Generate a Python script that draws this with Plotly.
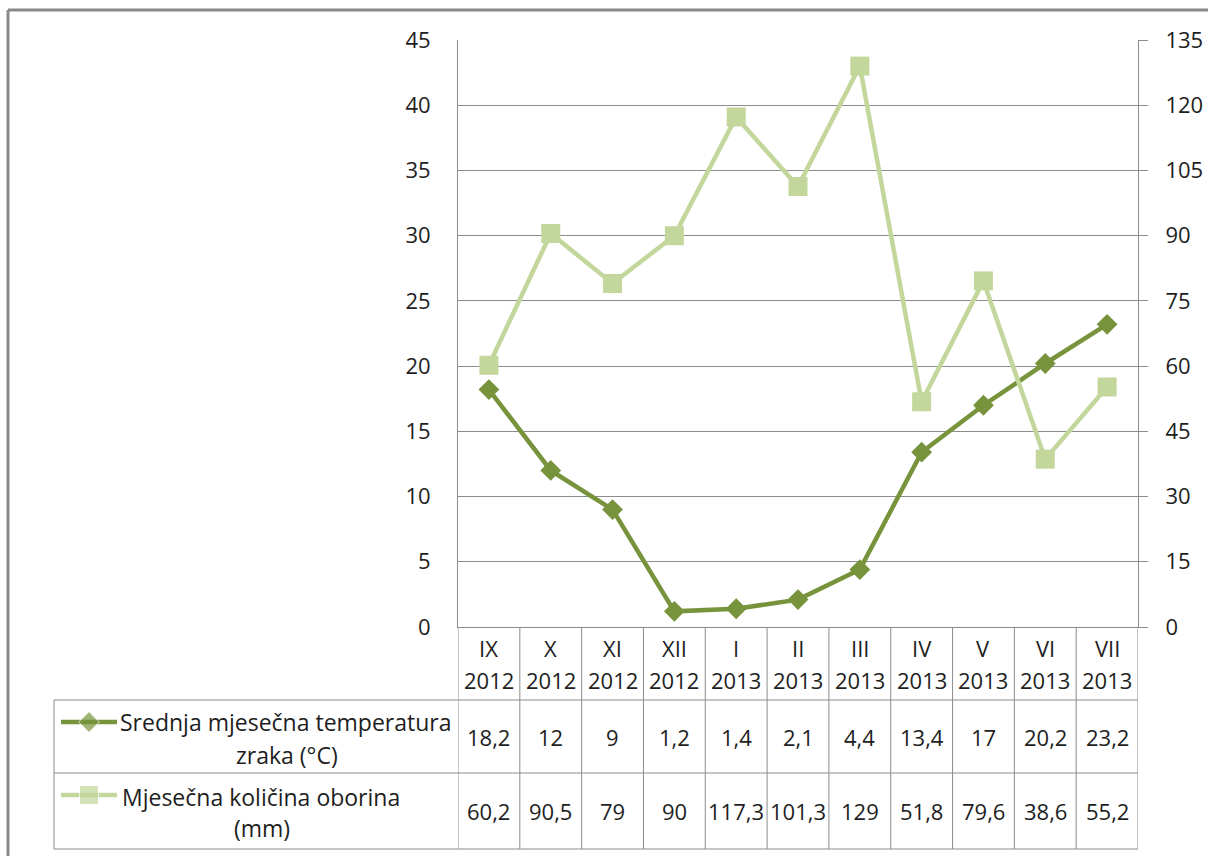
import plotly.graph_objects as go

# ---------------- data ----------------
months = ["IX", "X", "XI", "XII", "I", "II", "III", "IV", "V", "VI", "VII"]
years = ["2012", "2012", "2012", "2012", "2013", "2013", "2013", "2013", "2013", "2013", "2013"]
temperature = [18.2, 12, 9, 1.2, 1.4, 2.1, 4.4, 13.4, 17, 20.2, 23.2]
precipitation = [60.2, 90.5, 79, 90, 117.3, 101.3, 129, 51.8, 79.6, 38.6, 55.2]
temp_name_lines = ["Srednja mjesečna temperatura", "zraka (°C)"]
prec_name_lines = ["Mjesečna količina oborina", "(mm)"]
left_ticks = [0, 5, 10, 15, 20, 25, 30, 35, 40, 45]
right_ticks = [0, 15, 30, 45, 60, 75, 90, 105, 120, 135]

# ---------------- style ----------------
W, H = 1208, 856
FONT = "Open Sans"
FS = 22
FS_LABEL = 23
TXT = "#1e1e1e"
GRID = "#8c8c8c"
TEMP_C = "#77933C"
PREC_C = "#C3D69B"

PL, PR, PT, PB = 458, 1138, 40, 627   # plot area in px
TAB_L = 54
ROW1_T, ROW2_T, TAB_B = 700, 773, 849


def px(x):
    return x / W


def py(y):
    return 1 - y / H


def fmt(v):
    return f"{v:g}".replace(".", ",")


xs = list(range(len(months)))

fig = go.Figure()

fig.add_trace(go.Scatter(
    x=xs, y=temperature, mode="lines+markers", name=" ".join(temp_name_lines),
    line=dict(color=TEMP_C, width=4.5),
    marker=dict(symbol="diamond", size=16, color=TEMP_C),
    xaxis="x", yaxis="y", showlegend=False, cliponaxis=False,
))
fig.add_trace(go.Scatter(
    x=xs, y=precipitation, mode="lines+markers", name=" ".join(prec_name_lines),
    line=dict(color=PREC_C, width=4.5),
    marker=dict(symbol="square", size=19, color=PREC_C),
    xaxis="x", yaxis="y2", showlegend=False, cliponaxis=False,
))

# legend keys inside the data table (pixel-space helper axis)
fig.add_trace(go.Scatter(
    x=[61, 89, 117], y=[722, 722, 722], mode="lines+markers",
    line=dict(color=TEMP_C, width=4.5),
    marker=dict(symbol="diamond", size=[0, 16, 0], color=TEMP_C),
    xaxis="x3", yaxis="y3", showlegend=False, hoverinfo="skip",
))
fig.add_trace(go.Scatter(
    x=[61, 89, 117], y=[795, 795, 795], mode="lines+markers",
    line=dict(color=PREC_C, width=4.5),
    marker=dict(symbol="square", size=[0, 19, 0], color=PREC_C),
    xaxis="x3", yaxis="y3", showlegend=False, hoverinfo="skip",
))

shapes = []
line_style = dict(color=GRID, width=1)
# outer chart border (top & left)
shapes.append(dict(type="line", xref="paper", yref="paper", x0=px(8), x1=1, y0=py(10), y1=py(10),
                   line=dict(color="#8a8a8a", width=3)))
shapes.append(dict(type="line", xref="paper", yref="paper", x0=px(8), x1=px(8), y0=py(10), y1=0,
                   line=dict(color="#8a8a8a", width=3)))
# column separators through the table
for i in range(len(months) + 1):
    shapes.append(dict(type="line", xref="x", yref="paper", x0=i - 0.5, x1=i - 0.5,
                       y0=py(PB), y1=py(TAB_B), line=line_style))
# horizontal table lines
for yy in (ROW1_T, ROW2_T, TAB_B):
    shapes.append(dict(type="line", xref="paper", yref="paper", x0=px(TAB_L), x1=px(PR),
                       y0=py(yy), y1=py(yy), line=line_style))
shapes.append(dict(type="line", xref="paper", yref="paper", x0=px(TAB_L), x1=px(TAB_L),
                   y0=py(ROW1_T), y1=py(TAB_B), line=line_style))

annotations = []
tf = dict(family=FONT, size=FS, color=TXT)
lf = dict(family=FONT, size=FS_LABEL, color=TXT)
for i, (m, yr) in enumerate(zip(months, years)):
    annotations.append(dict(x=i, y=py(648), xref="x", yref="paper", text=m, showarrow=False,
                            font=tf, xanchor="center", yanchor="middle"))
    annotations.append(dict(x=i, y=py(680), xref="x", yref="paper", text=yr, showarrow=False,
                            font=tf, xanchor="center", yanchor="middle"))
    annotations.append(dict(x=i, y=py(737), xref="x", yref="paper", text=fmt(temperature[i]),
                            showarrow=False, font=tf, xanchor="center", yanchor="middle"))
    annotations.append(dict(x=i, y=py(811), xref="x", yref="paper", text=fmt(precipitation[i]),
                            showarrow=False, font=tf, xanchor="center", yanchor="middle"))

for txt, cx, cy in ((temp_name_lines[0], 286, 722), (temp_name_lines[1], 287, 755),
                    (prec_name_lines[0], 261, 797), (prec_name_lines[1], 262, 828)):
    annotations.append(dict(x=px(cx), y=py(cy), xref="paper", yref="paper", text=txt,
                            showarrow=False, font=lf, xanchor="center", yanchor="middle"))

fig.update_layout(
    width=W, height=H, autosize=False,
    margin=dict(l=0, r=0, t=0, b=0, autoexpand=False),
    paper_bgcolor="white", plot_bgcolor="rgba(0,0,0,0)",
    font=dict(family=FONT, size=FS, color=TXT),
    xaxis=dict(domain=[px(PL), px(PR)], range=[-0.5, len(months) - 0.5], showticklabels=False,
               showgrid=False, zeroline=False, showline=True, linecolor=GRID, linewidth=1,
               ticks="", fixedrange=True, automargin=False),
    yaxis=dict(domain=[py(PB), py(PT)], range=[0, 45], tickvals=left_ticks,
               showgrid=True, gridcolor=GRID, gridwidth=1, zeroline=False,
               showline=True, linecolor=GRID, linewidth=1, ticks="",
               ticklabelstandoff=22, tickfont=tf, fixedrange=True, automargin=False),
    yaxis2=dict(domain=[py(PB), py(PT)], range=[0, 135], tickvals=right_ticks, overlaying="y",
                side="right", anchor="x", showgrid=False, zeroline=False, showline=True,
                linecolor=GRID, linewidth=1, ticks="outside", ticklen=9, tickcolor=GRID,
                tickwidth=1, ticklabelstandoff=13, tickfont=tf, fixedrange=True, automargin=False),
    xaxis3=dict(domain=[0, 1], range=[0, W], visible=False, anchor="y3", fixedrange=True,
                automargin=False),
    yaxis3=dict(domain=[0, 1], range=[H, 0], visible=False, anchor="x3", fixedrange=True,
                automargin=False),
    shapes=shapes,
    annotations=annotations,
)

fig.write_html("out.html", config={"displayModeBar": False},
               post_script="document.body.style.margin='0';document.body.style.overflow='hidden';")
